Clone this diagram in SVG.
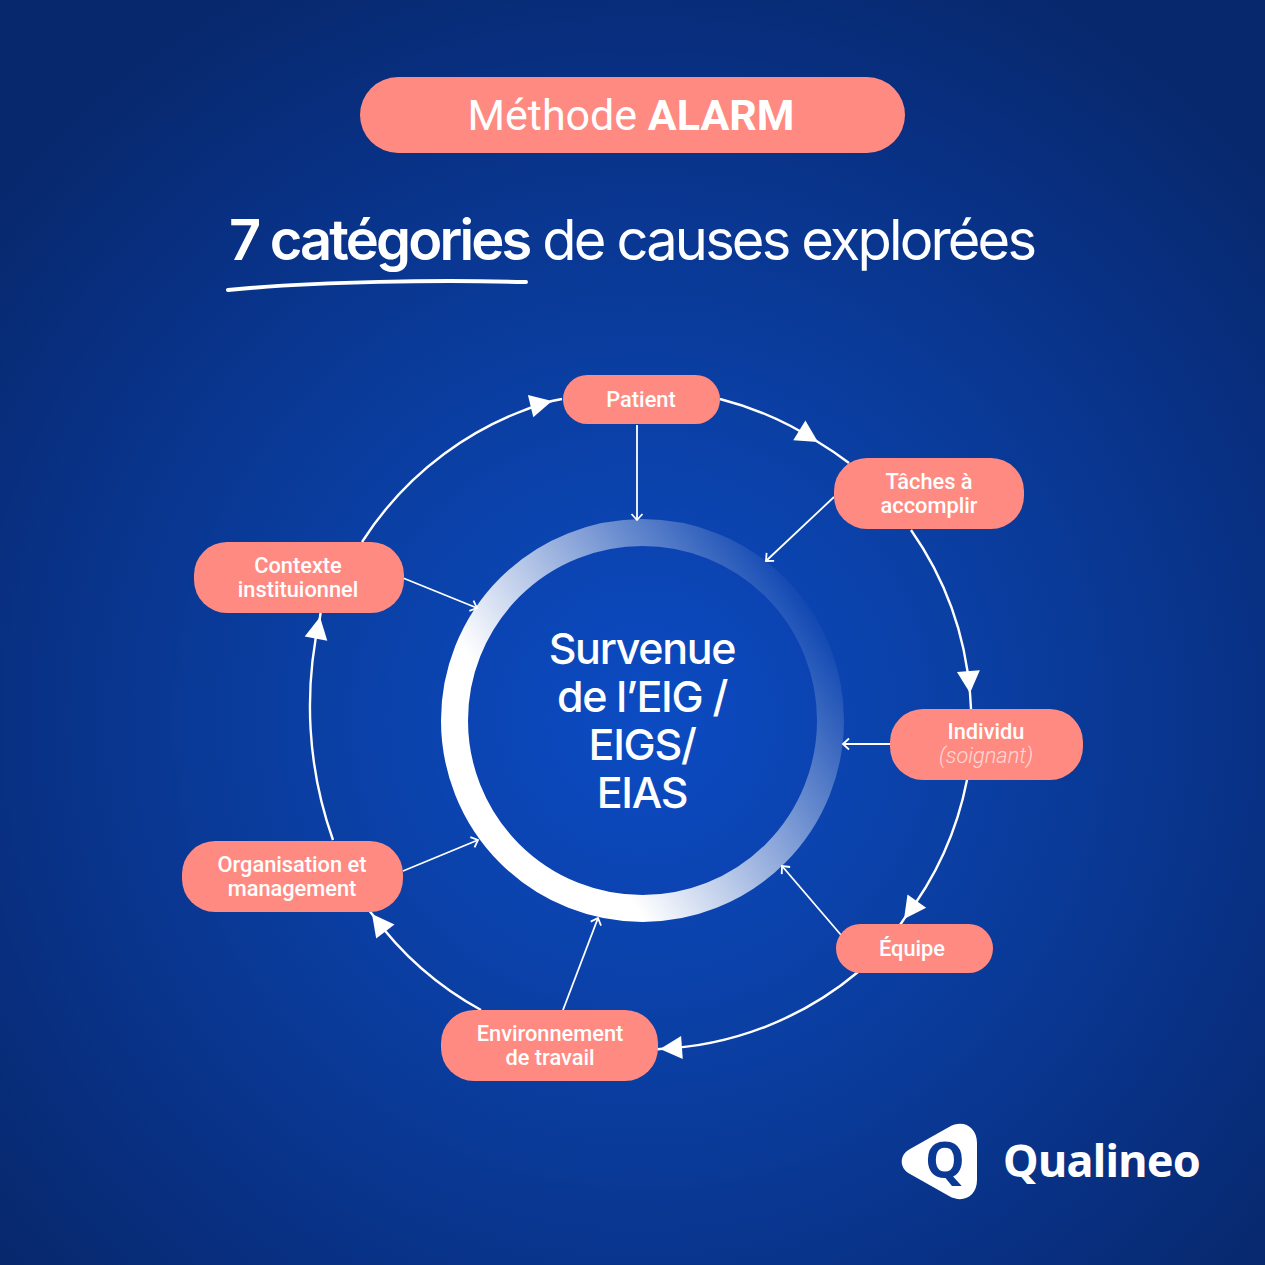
<svg xmlns="http://www.w3.org/2000/svg" width="1265" height="1265" viewBox="0 0 1265 1265">
<defs>
<radialGradient id="bg" gradientUnits="userSpaceOnUse" cx="642" cy="720" r="830">
<stop offset="0" stop-color="#0c4bc3"/><stop offset="0.45" stop-color="#0a3d9f"/><stop offset="0.8" stop-color="#082f80"/><stop offset="1" stop-color="#07286c"/>
</radialGradient>
<linearGradient id="ring" gradientUnits="userSpaceOnUse" x1="480" y1="830" x2="810" y2="610">
<stop offset="0" stop-color="#fff"/><stop offset="0.22" stop-color="#fff"/><stop offset="1" stop-color="#fff" stop-opacity="0.03"/>
</linearGradient>
<marker id="tri" markerUnits="userSpaceOnUse" markerWidth="26" markerHeight="26" refX="23" refY="13" orient="auto" overflow="visible">
<path d="M1 1.500L23 13L1 24.500Z" fill="#fff"/>
</marker>
<marker id="open" markerUnits="userSpaceOnUse" markerWidth="14" markerHeight="14" refX="11" refY="7" orient="auto" overflow="visible">
<path d="M5 1.500L11 7L5 12.500" fill="none" stroke="#fff" stroke-width="1.800"/>
</marker>
</defs>
<style>
.node{fill:#ff8a82}
.lbl{font-family:Roboto,"Liberation Sans",sans-serif;font-size:21.800px;font-weight:500;fill:#fff;text-anchor:middle}
.sub{font-weight:300;font-style:italic;fill:#ffd9d5}
.arc{fill:none;stroke:#fff;stroke-width:2.400;marker-mid:url(#tri)}
.in{fill:none;stroke:#fff;stroke-width:1.800;marker-end:url(#open)}
.center{font-family:Inter,"Liberation Sans",sans-serif;font-size:43px;font-weight:500;fill:#fff;text-anchor:middle;letter-spacing:-1.300px}
</style>
<rect width="1265" height="1265" fill="url(#bg)"/>
<g id="header">
<rect class="node" x="360" y="77" width="545" height="76" rx="38"/>
<text x="631" y="130" text-anchor="middle" font-family="Roboto,'Liberation Sans',sans-serif" font-size="43" fill="#fff">Méthode <tspan font-weight="700">ALARM</tspan></text>
<text x="632" y="260" text-anchor="middle" font-family="Inter,'Liberation Sans',sans-serif" font-size="56" fill="#fff" letter-spacing="-2" textLength="806"><tspan font-weight="600">7 catégories</tspan> de causes explorées</text>
<path d="M228 290C320 281 440 280 526 282" fill="none" stroke="#fff" stroke-width="4" stroke-linecap="round"/>
</g>
<g id="center-ring">
<circle cx="642.500" cy="720.500" r="188" fill="none" stroke="url(#ring)" stroke-width="27"/>
<text class="center" x="642" y="664">Survenue</text>
<text class="center" x="642" y="712">de l’EIG /</text>
<text class="center" x="642" y="760">EIGS/</text>
<text class="center" x="642" y="808">EIAS</text>
</g>
<g id="connectors">
<path class="arc" d="M720 399A332 332 0 0 1 818 442A332 332 0 0 1 849 463"/>
<path class="arc" d="M911 530A332 332 0 0 1 970 693L971 709"/>
<path class="arc" d="M967 780A332 332 0 0 1 904 919L900 925"/>
<path class="arc" d="M858 972A332 332 0 0 1 660 1049L650 1050"/>
<path class="arc" d="M481 1010A332 332 0 0 1 372 914L368 909"/>
<path class="arc" d="M333 840A400 400 0 0 1 320 617L321 610"/>
<path class="arc" d="M362 542A332 332 0 0 1 552 401L562 399"/>
<path class="in" d="M637 425V520"/>
<path class="in" d="M834 497L766 561"/>
<path class="in" d="M890 744H843"/>
<path class="in" d="M841 935L782 866"/>
<path class="in" d="M563 1010L598 918"/>
<path class="in" d="M403 871L478 840"/>
<path class="in" d="M403 578L477 608"/>
</g>
<g id="node-patient"><rect class="node" x="563" y="375" width="157" height="49" rx="24.500"/><text class="lbl" x="641" y="407">Patient</text></g>
<g id="node-taches"><rect class="node" x="834" y="458" width="190" height="71" rx="33"/><text class="lbl" x="929" y="489">Tâches à</text><text class="lbl" x="929" y="513">accomplir</text></g>
<g id="node-individu"><rect class="node" x="890" y="709" width="193" height="71" rx="33"/><text class="lbl" x="986" y="739">Individu</text><text class="lbl sub" x="986" y="763">(soignant)</text></g>
<g id="node-equipe"><rect class="node" x="836" y="924" width="157" height="49" rx="24.500"/><text class="lbl" x="912" y="956">Équipe</text></g>
<g id="node-environnement"><rect class="node" x="441" y="1010" width="217" height="71" rx="33"/><text class="lbl" x="550" y="1041">Environnement</text><text class="lbl" x="550" y="1065">de travail</text></g>
<g id="node-organisation"><rect class="node" x="182" y="841" width="221" height="71" rx="33"/><text class="lbl" x="292" y="872">Organisation et</text><text class="lbl" x="292" y="896">management</text></g>
<g id="node-contexte"><rect class="node" x="194" y="542" width="210" height="71" rx="33"/><text class="lbl" x="298" y="573">Contexte</text><text class="lbl" x="298" y="597">instituionnel</text></g>
<g id="logo">
<path d="M910 1149L949 1127C963 1119 977 1127 977 1143V1180C977 1196 963 1204 949 1196L910 1174C899 1168 899 1155 910 1149Z" fill="#fff"/>
<text x="945" y="1178" text-anchor="middle" font-family="'Open Sans','Liberation Sans',sans-serif" font-size="50" font-weight="700" fill="#0a3a94">Q</text>
<text x="1003" y="1177" font-family="'Noto Sans','Liberation Sans',sans-serif" font-size="45" font-weight="700" fill="#fff" textLength="198">Qualineo</text>
</g>
</svg>
